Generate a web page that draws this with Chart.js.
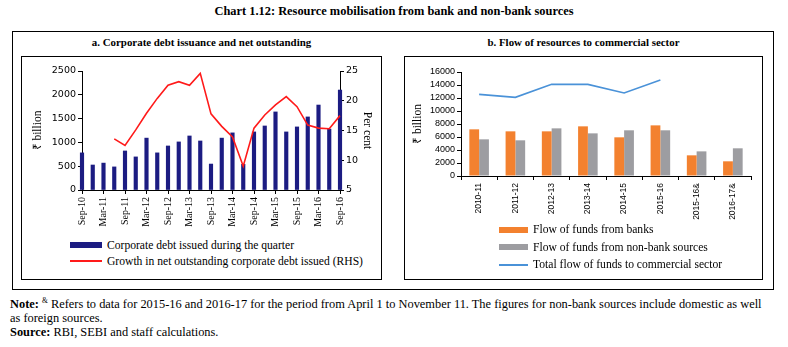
<!DOCTYPE html>
<html>
<head>
<meta charset="utf-8">
<script src="https://cdn.jsdelivr.net/npm/chart.js@4.4.1/dist/chart.umd.min.js"></script>
<style>
  body { margin: 0; background: #fff; width: 788px; height: 347px; position: relative; overflow: hidden;
         font-family: "Liberation Serif", serif; color: #000; }
  .abs { position: absolute; }
  .box { position: absolute; border: 1px solid #000; box-sizing: border-box; }
  #title { left: 0; width: 788px; top: 4px; text-align: center; font-weight: bold; font-size: 12.4px; }
  .ptitle { position: absolute; top: 36px; text-align: center; font-weight: bold; font-size: 10.9px; }
  .legend { position: absolute; }
  .legend .row { display: flex; align-items: center; white-space: nowrap; }
  .legend .sw { flex: none; }
  #note { left: 10px; top: 294px; width: 778px; font-size: 12.4px; line-height: 14px; }
  #note sup { font-size: 7.5px; }
</style>
</head>
<body>
<div id="title" class="abs">Chart 1.12: Resource mobilisation from bank and non-bank sources</div>
<div class="box" style="left:12px;top:31px;width:762px;height:259px;"></div>
<div class="box" style="left:21px;top:56px;width:361px;height:224px;"></div>
<div class="box" style="left:404px;top:56px;width:359px;height:224px;"></div>
<div class="ptitle" style="left:21px;width:361px;">a. Corporate debt issuance and net outstanding</div>
<div class="ptitle" style="left:404px;width:359px;">b. Flow of resources to commercial sector</div>

<canvas id="chartA" class="abs" width="358" height="180" style="left:22px;top:57px;"></canvas>
<canvas id="chartB" class="abs" width="355" height="165" style="left:405px;top:57px;"></canvas>
<div id="legendA" class="legend" style="left:70px;top:237px;font-size:11.6px;"></div>
<div id="legendB" class="legend" style="left:499px;top:221px;font-size:11.6px;"></div>

<div id="note" class="abs"><b>Note:</b> <sup>&amp;</sup> Refers to data for 2015-16 and 2016-17 for the period from April 1 to November 11. The figures for non-bank sources include domestic as well<br>as foreign sources.<br><b>Source:</b> RBI, SEBI and staff calculations.</div>

<script>
// panel a: quarterly data, Sep-10 to Sep-16
const quarters = ['Sep-10', 'Dec-10', 'Mar-11', 'Jun-11', 'Sep-11', 'Dec-11', 'Mar-12', 'Jun-12', 'Sep-12',
    'Dec-12', 'Mar-13', 'Jun-13', 'Sep-13', 'Dec-13', 'Mar-14', 'Jun-14', 'Sep-14', 'Dec-14', 'Mar-15',
    'Jun-15', 'Sep-15', 'Dec-15', 'Mar-16', 'Jun-16', 'Sep-16'];
const debtIssued = [780, 525, 565, 485, 820, 695, 1090, 780, 925, 1010, 1135, 1030, 545, 1090, 1200, 540,
    1220, 1345, 1640, 1220, 1325, 1535, 1785, 1280, 2100];
const outstandingGrowth = [null, null, null, 13.6, 12.5, 15.1, 17.9, 20.4, 22.6, 23.2, 22.6, 24.6, 17.8,
    15.7, 13.9, 9.0, 15.4, 17.6, 19.3, 20.7, 19.0, 15.9, 15.4, 15.3, 17.5];
const ticksA = [0, 500, 1000, 1500, 2000, 2500];
const ticksA2 = [5, 10, 15, 20, 25];

// panel b: yearly flows, ₹ billion
const years = ['2010-11', '2011-12', '2012-13', '2013-14', '2014-15', '2015-16', '2015-16&', '2016-17&'];
const bankFlow = [7180, 6870, 6870, 7640, 5950, 7790, 3180, 2260];
const nonBankFlow = [5640, 5490, 7330, 6560, 7030, 7030, 3790, 4260];
const totalFlow = [12560, 12100, 14100, 14100, 12770, 14770, null, null];
const ticksB = [0, 2000, 4000, 6000, 8000, 10000, 12000, 14000, 16000];

const serif = 'Liberation Serif';

function buildLegend(datasets, elId, swatchW, rowH) {
    const el = document.getElementById(elId);
    datasets.forEach(ds => {
        const row = document.createElement('div');
        row.className = 'row';
        row.style.height = rowH + 'px';
        const sw = document.createElement('div');
        sw.className = 'sw';
        sw.style.width = swatchW + 'px';
        sw.style.marginRight = '5px';
        if (ds.type === 'line') {
            sw.style.height = '2px';
            sw.style.background = ds.borderColor;
        } else {
            sw.style.height = '6px';
            sw.style.background = ds.backgroundColor;
        }
        const txt = document.createElement('span');
        txt.textContent = ds.label;
        row.appendChild(sw);
        row.appendChild(txt);
        el.appendChild(row);
    });
}

function fixTicks(values) {
    return scale => { scale.ticks = values.map(v => ({ value: v })); };
}
const plain = v => String(v);

const chartA = new Chart(document.getElementById('chartA'), {
    type: 'bar',
    data: {
        labels: quarters,
        datasets: [{
            type: 'line',
            label: 'Growth in net outstanding corporate debt issued (RHS)',
            data: outstandingGrowth,
            yAxisID: 'y1',
            borderColor: '#ff1a1a',
            borderWidth: 1.6,
            pointRadius: 0,
            tension: 0,
            order: 0
        }, {
            type: 'bar',
            label: 'Corporate debt issued during the quarter',
            data: debtIssued,
            yAxisID: 'y',
            backgroundColor: '#1c1c82',
            barThickness: 3.5,
            clip: false,
            order: 1
        }]
    },
    options: {
        responsive: false,
        animation: false,
        layout: { padding: { top: 14, left: 0, right: 0, bottom: 0 } },
        plugins: { legend: { display: false }, tooltip: { enabled: false } },
        scales: {
            x: {
                offset: false,
                grid: { offset: false, drawOnChartArea: false, tickLength: 4, color: '#000' },
                border: { color: '#000' },
                ticks: { autoSkip: false, minRotation: 90, maxRotation: 90, padding: 3, color: '#000',
                    font: { family: serif, size: 10 } },
                afterBuildTicks: scale => { scale.ticks = scale.ticks.filter((t, i) => i % 2 === 0); },
                afterFit: scale => { scale.height = 47; }
            },
            y: {
                position: 'left',
                min: 0, max: 2500,
                grid: { drawOnChartArea: false, tickLength: 4, color: '#000' },
                border: { color: '#000' },
                ticks: { autoSkip: false, padding: 2, color: '#000', callback: plain,
                    font: { family: 'DejaVu Sans', size: 9.5 } },
                afterBuildTicks: fixTicks(ticksA),
                title: { display: true, text: '₹ billion', color: '#000', padding: { top: 9 },
                    font: { family: serif, size: 11.5 } },
                afterFit: scale => { scale.width = 60; }
            },
            y1: {
                position: 'right',
                min: 5, max: 25,
                grid: { drawOnChartArea: false, tickLength: 4, color: '#000' },
                border: { color: '#000' },
                ticks: { autoSkip: false, padding: 2, color: '#000', callback: plain,
                    font: { family: 'DejaVu Sans', size: 9.5 } },
                afterBuildTicks: fixTicks(ticksA2),
                title: { display: true, text: 'Per cent', color: '#000', padding: { top: 6 },
                    font: { family: serif, size: 11.5 } },
                afterFit: scale => { scale.width = 40; }
            }
        }
    }
});

const chartB = new Chart(document.getElementById('chartB'), {
    type: 'bar',
    data: {
        labels: years,
        datasets: [{
            type: 'bar',
            label: 'Flow of funds from banks',
            data: bankFlow,
            backgroundColor: '#f3812f',
            categoryPercentage: 0.54,
            barPercentage: 1,
            order: 1
        }, {
            type: 'bar',
            label: 'Flow of funds from non-bank sources',
            data: nonBankFlow,
            backgroundColor: '#9d9da1',
            categoryPercentage: 0.54,
            barPercentage: 1,
            order: 1
        }, {
            type: 'line',
            label: 'Total flow of funds to commercial sector',
            data: totalFlow,
            borderColor: '#4a92d8',
            borderWidth: 1.6,
            pointRadius: 0,
            tension: 0,
            order: 0
        }]
    },
    options: {
        responsive: false,
        animation: false,
        layout: { padding: { top: 15, left: 0, right: 9, bottom: 0 } },
        plugins: { legend: { display: false }, tooltip: { enabled: false } },
        scales: {
            x: {
                offset: true,
                grid: { offset: true, drawOnChartArea: false, tickLength: 4, color: '#000' },
                border: { color: '#000' },
                ticks: { autoSkip: false, minRotation: 90, maxRotation: 90, padding: 3, color: '#000',
                    font: { family: 'Liberation Sans', size: 8.5 } },
                afterFit: scale => { scale.height = 46; }
            },
            y: {
                min: 0, max: 16000,
                grid: { drawOnChartArea: false, tickLength: 4, color: '#000' },
                border: { color: '#000' },
                ticks: { autoSkip: false, padding: 2, color: '#000', callback: plain,
                    font: { family: 'Liberation Sans', size: 9 } },
                afterBuildTicks: fixTicks(ticksB),
                title: { display: true, text: '₹ billion', color: '#000', padding: { top: 6 },
                    font: { family: serif, size: 11.5 } },
                afterFit: scale => { scale.width = 56; }
            }
        }
    }
});

buildLegend([chartA.data.datasets[1], chartA.data.datasets[0]], 'legendA', 32, 16);
buildLegend(chartB.data.datasets, 'legendB', 29, 17.5);
</script>
</body>
</html>
